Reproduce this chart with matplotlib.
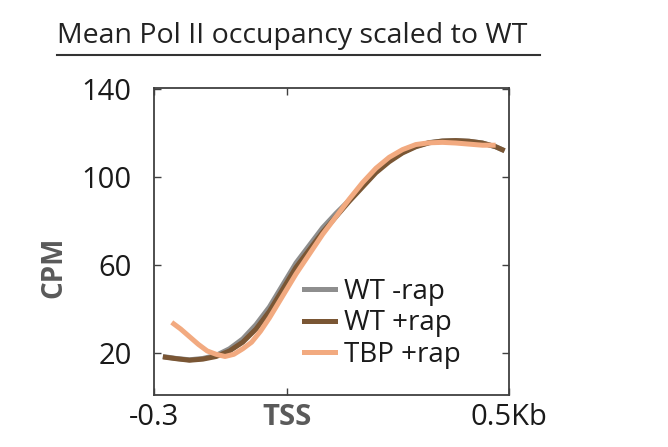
import matplotlib
matplotlib.use("Agg")
import matplotlib.pyplot as plt
from matplotlib.lines import Line2D

# data
x_wt = [-0.28, -0.25, -0.22, -0.19, -0.16, -0.13, -0.10, -0.07, -0.04, -0.01, 0.02, 0.05, 0.08,
        0.11, 0.14, 0.17, 0.20, 0.23, 0.26, 0.29, 0.32, 0.35, 0.38, 0.41, 0.44, 0.47, 0.49]
wt_minus = [18.5, 17.6, 17.0, 17.6, 19.0, 22.0, 26.5, 33.0, 41.0, 51.0, 61.0, 69.0, 77.0,
            83.5, 89.5, 96.0, 102.5, 107.5, 111.3, 114.0, 115.7, 116.4, 116.6, 116.3, 115.5, 113.8, 112.0]
wt_plus = [18.3, 17.5, 16.8, 17.3, 18.5, 21.0, 25.0, 31.0, 39.0, 49.0, 59.0, 67.0, 75.0,
           82.0, 89.0, 95.5, 102.0, 107.0, 111.0, 113.8, 115.6, 116.4, 116.6, 116.3, 115.5, 113.8, 112.0]
x_tbp = [-0.26, -0.24, -0.22, -0.20, -0.18, -0.16, -0.14, -0.12, -0.10, -0.08, -0.06, -0.04, -0.01,
         0.02, 0.05, 0.08, 0.11, 0.14, 0.17, 0.20, 0.23, 0.26, 0.29, 0.32, 0.35, 0.38, 0.41, 0.44, 0.47]
tbp_plus = [34.0, 31.0, 27.5, 24.0, 21.0, 19.5, 18.5, 19.5, 22.0, 25.0, 30.0, 36.0, 46.0,
            56.0, 65.0, 74.0, 82.0, 90.0, 97.5, 104.0, 109.0, 112.5, 114.8, 115.6, 115.8, 115.5, 115.0, 114.5, 114.5]
series_labels = ["WT -rap", "WT +rap", "TBP +rap"]
yticks = [20, 60, 100, 140]
xticks = [-0.3, 0.0, 0.5]
xticklabels = ["-0.3", "TSS", "0.5Kb"]

colors = ["#8e8e8e", "#7a5634", "#f2aa80"]

plt.rcParams['font.family'] = ['Open Sans', 'DejaVu Sans']
fig = plt.figure(figsize=(6.68, 4.47), dpi=100)
ax = fig.add_axes([154/668, 1-395/447, (509-154)/668, (395-88)/447])

ax.plot(x_wt, wt_minus, color=colors[0], lw=3.6, solid_capstyle='butt')
ax.plot(x_wt, wt_plus, color=colors[1], lw=3.6, solid_capstyle='butt')
ax.plot(x_tbp, tbp_plus, color=colors[2], lw=3.6, solid_capstyle='butt')

ax.set_xlim(-0.3, 0.5)
ax.set_ylim(1, 140.5)
ax.set_yticks(yticks)
ax.set_yticklabels([str(v) for v in yticks], fontsize=21, color='#1a1a1a')
ax.set_xticks(xticks)
ax.set_xticklabels(xticklabels, fontsize=21, color='#1a1a1a')
for lab in ax.get_xticklabels():
    if lab.get_text() == "TSS":
        lab.set_fontweight('bold')
        lab.set_color('#5a5a5a')
        lab.set_fontsize(21)
ax.tick_params(direction='in', length=5, width=1, right=True, top=True, color='#404040')
ax.tick_params(axis='y', pad=16)
ax.tick_params(axis='x', pad=6)
for s in ax.spines.values():
    s.set_color('#404040')
    s.set_linewidth(1.3)

ax.set_ylabel("CPM", fontsize=20, fontweight='bold', color='#5a5a5a')
ax.yaxis.set_label_coords(-0.24, 0.417)

handles = [Line2D([0], [0], color=c, lw=3.6) for c in colors]
leg = ax.legend(handles, series_labels, loc='upper left',
                bbox_to_anchor=(304/668, 1-278/447), bbox_transform=fig.transFigure,
                frameon=False, fontsize=20, handlelength=1.1, handletextpad=0.35,
                labelspacing=0.12, borderpad=0, borderaxespad=0)
for t in leg.get_texts():
    t.set_color('#1a1a1a')

fig.text(57/668, 1-43/447, "Mean Pol II occupancy scaled to WT", fontsize=20.5, color='#222222',
         ha='left', va='baseline')
fig.add_artist(Line2D([57/668, 540/668], [1-55/447, 1-55/447], color='#333333', lw=1.5,
                      transform=fig.transFigure))

fig.savefig("out.png", dpi=100)
